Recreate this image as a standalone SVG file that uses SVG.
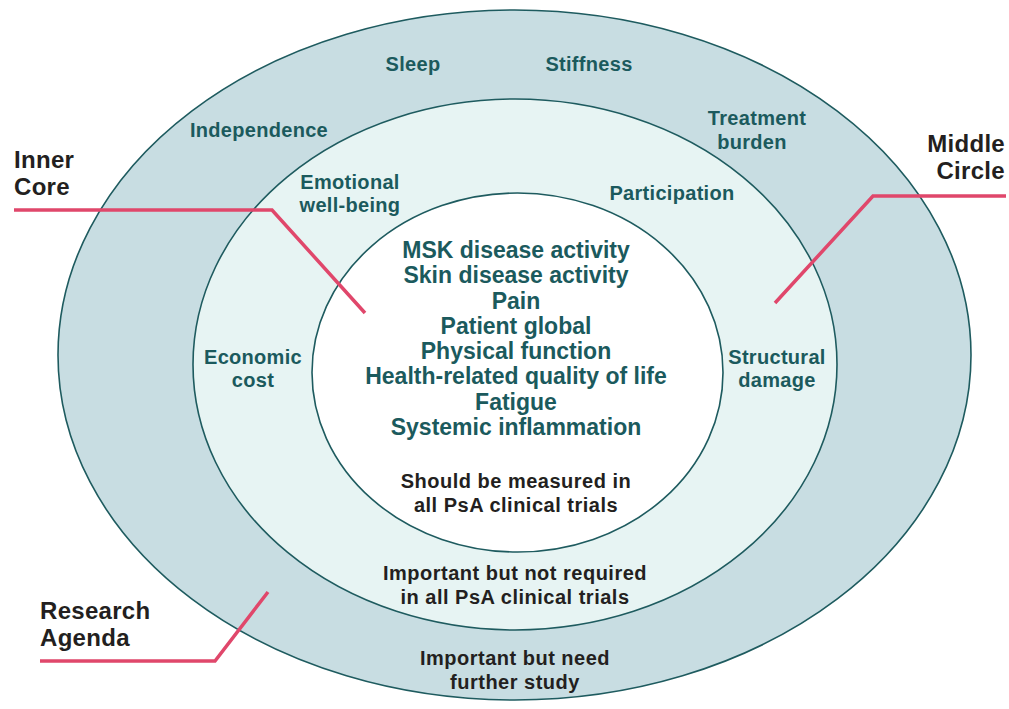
<svg xmlns="http://www.w3.org/2000/svg" width="1009" height="709" viewBox="0 0 1009 709">
<style>
.ring{stroke:#1e5b5f;stroke-width:1.6}
.teal{font-family:"Liberation Sans",Arial,sans-serif;font-weight:bold;fill:#1b5a5d;text-anchor:middle;font-size:20px;letter-spacing:0.3px}
.core{font-family:"Liberation Sans",Arial,sans-serif;font-weight:bold;fill:#1b5a5d;text-anchor:middle;font-size:23px}
.cap{font-family:"Liberation Sans",Arial,sans-serif;font-weight:bold;fill:#231f20;text-anchor:middle;font-size:20px;letter-spacing:0.5px}
.big{font-family:"Liberation Sans",Arial,sans-serif;font-weight:bold;fill:#231f20;font-size:24px;letter-spacing:0.3px}
.lead{fill:none;stroke:#e0476b;stroke-width:3.5;stroke-linejoin:miter}
</style>
<rect width="1009" height="709" fill="#ffffff"/>
<g id="research-agenda">
<ellipse class="ring" cx="514.5" cy="355" rx="456.5" ry="345" fill="#c8dde2"/>
<text class="teal" x="413" y="71">Sleep</text>
<text class="teal" x="589" y="71">Stiffness</text>
<text class="teal" x="259" y="137">Independence</text>
<text class="teal" x="757" y="125">Treatment</text>
<text class="teal" x="752" y="149">burden</text>
<text class="cap" x="515" y="665">Important but need</text>
<text class="cap" x="515" y="689">further study</text>
</g>
<g id="middle-circle">
<ellipse class="ring" cx="515" cy="364.5" rx="322" ry="265.5" fill="#e7f4f3"/>
<text class="teal" x="350" y="189">Emotional</text>
<text class="teal" x="350" y="212">well-being</text>
<text class="teal" x="672" y="200">Participation</text>
<text class="teal" x="253" y="364">Economic</text>
<text class="teal" x="253" y="387">cost</text>
<text class="teal" x="777" y="364">Structural</text>
<text class="teal" x="777" y="387">damage</text>
<text class="cap" x="515" y="580">Important but not required</text>
<text class="cap" x="515" y="604">in all PsA clinical trials</text>
</g>
<g id="inner-core">
<ellipse class="ring" cx="517.5" cy="372.5" rx="205.5" ry="179.5" fill="#ffffff"/>
<text class="core" x="516" y="258">MSK disease activity</text>
<text class="core" x="516" y="283">Skin disease activity</text>
<text class="core" x="516" y="308.5">Pain</text>
<text class="core" x="516" y="333.5">Patient global</text>
<text class="core" x="516" y="359">Physical function</text>
<text class="core" x="516" y="384">Health-related quality of life</text>
<text class="core" x="516" y="409.5">Fatigue</text>
<text class="core" x="516" y="434.5">Systemic inflammation</text>
<text class="cap" x="516" y="488">Should be measured in</text>
<text class="cap" x="516" y="512">all PsA clinical trials</text>
</g>
<g id="connectors">
<polyline class="lead" points="14,210 272,210 365,313"/>
<polyline class="lead" points="1006,196 873,196 775,303"/>
<polyline class="lead" points="40,661 215,661 268,592"/>
</g>
<g id="label-inner-core">
<text class="big" x="14" y="168">Inner</text>
<text class="big" x="14" y="195">Core</text>
</g>
<g id="label-middle-circle">
<text class="big" x="1005" y="152" text-anchor="end">Middle</text>
<text class="big" x="1005" y="179" text-anchor="end">Circle</text>
</g>
<g id="label-research-agenda">
<text class="big" x="40" y="619">Research</text>
<text class="big" x="40" y="646">Agenda</text>
</g>
</svg>
